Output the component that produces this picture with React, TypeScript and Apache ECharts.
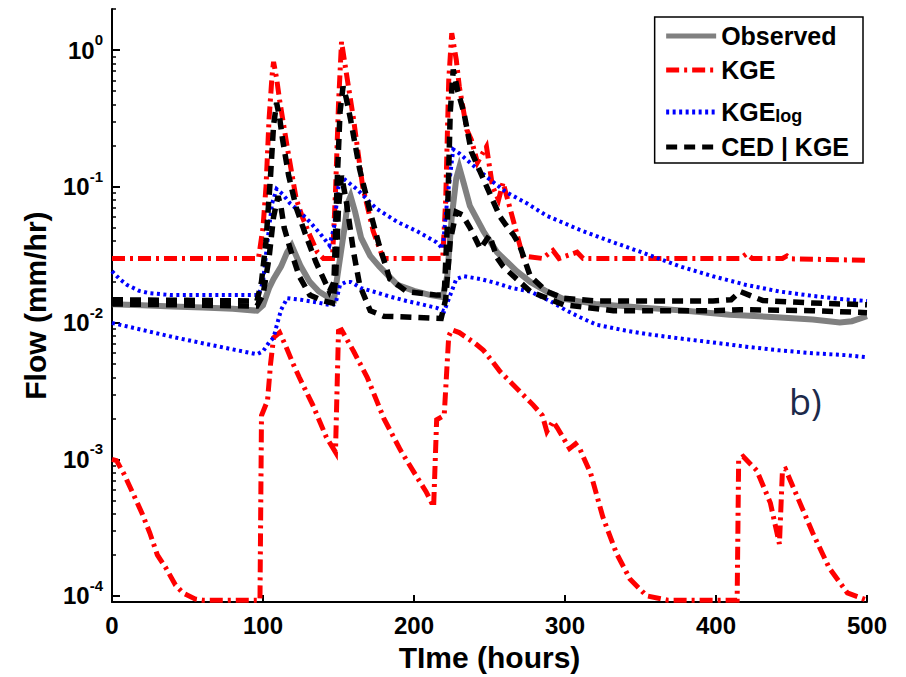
import React, { useEffect, useRef } from "react";
import * as echarts from "echarts";

// ---- data: [time (hours), flow (mm/hr)] ----
const observed: [number, number][] = [
  [0, 0.0137], [20, 0.0135], [40, 0.0132], [60, 0.013], [80, 0.0127], [96, 0.0123],
  [100, 0.0135], [104, 0.018], [107, 0.021], [112, 0.026], [116, 0.033], [119, 0.037],
  [122, 0.031], [125, 0.026], [131, 0.02], [137, 0.017], [144, 0.0152], [147, 0.0148],
  [150, 0.025], [154, 0.05], [156, 0.075], [158, 0.085], [161, 0.065], [165, 0.042],
  [171, 0.031], [177, 0.026], [189, 0.019], [200, 0.0172], [211, 0.016], [219, 0.0155],
  [222, 0.022], [225, 0.06], [228, 0.115], [230, 0.138], [233, 0.105], [237, 0.072],
  [246, 0.047], [255, 0.033], [268, 0.024], [277, 0.02], [288, 0.017], [299, 0.015],
  [320, 0.0138], [354, 0.0129], [380, 0.0123], [409, 0.0115], [440, 0.011], [464, 0.0106],
  [482, 0.0101], [490, 0.0103], [500, 0.0112]
];

const kgeUpper: [number, number][] = [
  [0, 0.0297], [97, 0.0297], [100, 0.05], [102, 0.1], [104, 0.31], [106, 0.65], [107, 0.82],
  [109, 0.62], [111, 0.43], [116, 0.196], [122, 0.081], [126, 0.06], [131, 0.044], [136, 0.033],
  [140, 0.0297], [146, 0.0297], [148, 0.09], [150, 0.4], [152, 1.15], [155, 0.7], [160, 0.31],
  [166, 0.1], [173, 0.047], [179, 0.031], [180, 0.0297], [219, 0.0297], [221, 0.08], [223, 0.6],
  [225, 1.33], [228, 0.85], [230, 0.54], [235, 0.26], [238, 0.22], [242, 0.15], [248, 0.196],
  [252, 0.1], [256, 0.08], [259, 0.107], [266, 0.055], [272, 0.031], [285, 0.0297], [292, 0.034],
  [296, 0.0297], [308, 0.033], [312, 0.0297], [416, 0.0297], [420, 0.032], [424, 0.0297],
  [444, 0.0297], [447, 0.031], [450, 0.0295], [500, 0.0288]
];

const kgeLower: [number, number][] = [
  [0, 0.001], [3, 0.00098], [8, 0.00078], [14, 0.00056], [20, 0.0004], [25, 0.00029], [30, 0.0002],
  [36, 0.000158], [42, 0.00012], [47, 0.000105], [55, 0.000095], [60, 0.000093], [98, 0.000093],
  [99, 0.0021], [103, 0.0027], [105, 0.005], [107, 0.0078], [111, 0.0085], [115, 0.0068],
  [120, 0.005], [124, 0.004], [133, 0.0025], [142, 0.00145], [148, 0.00113], [150, 0.0087],
  [152, 0.0089], [160, 0.0062], [169, 0.004], [180, 0.002], [191, 0.00117], [202, 0.00074],
  [208, 0.00058], [213, 0.00045], [215, 0.00195], [220, 0.0021], [223, 0.008], [225, 0.0089],
  [230, 0.0085], [235, 0.0078], [241, 0.007], [246, 0.0063], [252, 0.0052], [257, 0.0044],
  [266, 0.0035], [279, 0.0025], [285, 0.0021], [288, 0.0016], [292, 0.0019], [295, 0.0017],
  [303, 0.0012], [307, 0.0013], [310, 0.00118], [317, 0.00079], [325, 0.00038], [334, 0.000206],
  [343, 0.000133], [354, 0.0001], [368, 0.000093], [414, 0.000093], [415, 0.001], [418, 0.00105],
  [427, 0.00083], [436, 0.00048], [442, 0.00024], [444, 0.00083], [446, 0.00085], [453, 0.00056],
  [464, 0.00029], [475, 0.00016], [487, 0.000105], [500, 0.000093]
];

const kgeLogUpper: [number, number][] = [
  [0, 0.024], [5, 0.021], [10, 0.019], [18, 0.0172], [25, 0.0165], [40, 0.016], [97, 0.016],
  [100, 0.02], [103, 0.04], [106, 0.075], [109, 0.096], [113, 0.088], [118, 0.075], [124, 0.066],
  [131, 0.055], [138, 0.045], [144, 0.037], [147, 0.05], [150, 0.1], [153, 0.115], [158, 0.104],
  [162, 0.096], [175, 0.069], [189, 0.055], [202, 0.047], [215, 0.039], [219, 0.035], [222, 0.08],
  [226, 0.187], [230, 0.175], [237, 0.15], [250, 0.113], [261, 0.091], [275, 0.075], [288, 0.061],
  [310, 0.048], [332, 0.039], [354, 0.032], [376, 0.026], [398, 0.022], [420, 0.019], [442, 0.017],
  [464, 0.0158], [482, 0.015], [500, 0.0145]
];

const kgeLogLower: [number, number][] = [
  [0, 0.01], [20, 0.0089], [40, 0.0079], [60, 0.0071], [80, 0.0064], [96, 0.0059], [100, 0.0062],
  [104, 0.0072], [107, 0.0078], [109, 0.0095], [112, 0.0125], [116, 0.0152], [125, 0.0148],
  [135, 0.0142], [145, 0.0135], [148, 0.0138], [151, 0.019], [155, 0.02], [158, 0.02], [165, 0.018],
  [173, 0.017], [185, 0.0155], [195, 0.0145], [205, 0.0137], [215, 0.0129], [220, 0.0122],
  [224, 0.016], [228, 0.021], [233, 0.022], [244, 0.021], [255, 0.0195], [265, 0.018], [277, 0.017],
  [290, 0.0145], [300, 0.0125], [310, 0.011], [321, 0.0097], [340, 0.0088], [354, 0.0083],
  [376, 0.0077], [398, 0.0072], [420, 0.0067], [442, 0.0063], [464, 0.006], [487, 0.0058],
  [500, 0.0056]
];

const cedUpper: [number, number][] = [
  [0, 0.0148], [96, 0.0145], [99, 0.02], [102, 0.04], [105, 0.12], [107, 0.28], [109, 0.41],
  [111, 0.32], [113, 0.22], [117, 0.12], [122, 0.07], [128, 0.045], [135, 0.028], [144, 0.017],
  [147, 0.02], [149, 0.1], [151, 0.35], [153, 0.54], [155, 0.45], [158, 0.31], [164, 0.134],
  [171, 0.065], [177, 0.037], [184, 0.021], [195, 0.017], [215, 0.016], [220, 0.016], [222, 0.05],
  [224, 0.35], [226, 0.72], [229, 0.5], [233, 0.35], [238, 0.18], [246, 0.113], [252, 0.08],
  [257, 0.06], [261, 0.052], [266, 0.044], [270, 0.037], [277, 0.022], [288, 0.017], [299, 0.0152],
  [321, 0.0145], [398, 0.0145], [410, 0.0148], [416, 0.017], [422, 0.016], [431, 0.0146],
  [464, 0.014], [500, 0.0136]
];

const cedLower: [number, number][] = [
  [0, 0.0138], [96, 0.0133], [100, 0.016], [104, 0.03], [107, 0.06], [110, 0.085], [112, 0.07],
  [114, 0.05], [118, 0.035], [124, 0.022], [131, 0.016], [140, 0.0145], [146, 0.014], [148, 0.02],
  [150, 0.07], [152, 0.12], [155, 0.08], [160, 0.033], [164, 0.019], [171, 0.0123], [180, 0.0112],
  [200, 0.011], [218, 0.0108], [221, 0.015], [224, 0.04], [228, 0.065], [232, 0.062], [237, 0.05],
  [244, 0.035], [250, 0.044], [255, 0.03], [259, 0.026], [266, 0.022], [277, 0.017], [299, 0.0136],
  [332, 0.0123], [398, 0.0123], [416, 0.0125], [464, 0.0123], [500, 0.0119]
];

const xTicks = [0, 100, 200, 300, 400, 500];
const yDecades = [-4, -3, -2, -1, 0];
const legendNames = ["Observed", "KGE", "KGElog", "CED | KGE"];

const FONT = "'Liberation Sans', Arial, Helvetica, sans-serif";

export default function App() {
  const ref = useRef<HTMLDivElement>(null);

  useEffect(() => {
    if (!ref.current) return;
    const chart = echarts.init(ref.current, undefined, { renderer: "svg" });

    const yMin = Math.log10(9e-5);
    const yMax = Math.log10(2);
    const minor: number[] = [];
    for (let n = -5; n <= 0; n++) {
      for (let k = 2; k <= 9; k++) {
        const v = Math.log10(k * Math.pow(10, n));
        if (v > -4 && v <= yMax + 1e-9) minor.push(v);
      }
    }
    const toLog = (arr: [number, number][]) => arr.map(([t, v]) => [t, Math.log10(v)]);

    const red = { color: "#ff0000", width: 5, type: [13, 5, 3, 5] as any };
    const blue = { color: "#0000ff", width: 4, type: [3, 3.5] as any };
    const black = { color: "#000000", width: 5.5, type: [11, 7] as any };
    const grey = { color: "#808080", width: 6, type: "solid" as any };

    const mk = (name: string, data: [number, number][], ls: any, z: number) => ({
      name,
      type: "line",
      data: toLog(data),
      showSymbol: false,
      symbol: "none",
      lineStyle: { ...ls, cap: "butt", join: "miter" },
      itemStyle: { color: ls.color },
      z,
      silent: true,
    });

    chart.setOption({
      animation: false,
      grid: { left: 112, right: 39, top: 9, bottom: 71, containLabel: false },
      legend: {
        data: legendNames,
        orient: "vertical",
        right: 43,
        top: 17,
        selectedMode: false,
        itemWidth: 50,
        itemHeight: 24,
        itemGap: 9,
        padding: [6, 14, 4, 9],
        borderColor: "#000",
        borderWidth: 1.5,
        backgroundColor: "#fff",
        itemStyle: { opacity: 0, borderWidth: 0 },
        lineStyle: { width: 5 },
        formatter: (name: string) =>
          name === "KGElog" ? "{m|KGE}{sub|log}" : `{m|${name}}`,
        textStyle: {
          fontFamily: FONT,
          fontWeight: "bold",
          fontSize: 25,
          color: "#000",
          rich: {
            m: { fontFamily: FONT, fontWeight: "bold", fontSize: 25, lineHeight: 26, verticalAlign: "top", color: "#000" },
            sub: { fontFamily: FONT, fontWeight: "bold", fontSize: 18, lineHeight: 18, verticalAlign: "bottom", padding: [16, 0, 0, 0], color: "#000" },
          },
        },
      },
      xAxis: {
        type: "value",
        min: 0,
        max: 500,
        interval: 100,
        name: "TIme (hours)",
        nameLocation: "middle",
        nameGap: 37,
        nameTextStyle: { fontFamily: FONT, fontWeight: "bold", fontSize: 30, color: "#000" },
        axisLine: { show: true, onZero: false, lineStyle: { color: "#000", width: 2 } },
        axisTick: { show: true, inside: true, length: 7, lineStyle: { color: "#000", width: 2 } },
        axisLabel: {
          show: true,
          margin: 11,
          fontFamily: FONT,
          fontWeight: "bold",
          fontSize: 24,
          color: "#000",
          customValues: xTicks,
        },
        splitLine: { show: false },
      },
      yAxis: [
        {
          type: "value",
          min: yMin,
          max: yMax,
          name: "Flow (mm/hr)",
          nameLocation: "middle",
          nameGap: 62,
          nameRotate: 90,
          nameTextStyle: { fontFamily: FONT, fontWeight: "bold", fontSize: 30, color: "#000" },
          axisLine: { show: true, onZero: false, lineStyle: { color: "#000", width: 2 } },
          axisTick: { show: true, inside: true, length: 8, lineStyle: { color: "#000", width: 2 }, customValues: yDecades },
          axisLabel: {
            show: true,
            margin: 9,
            customValues: yDecades,
            formatter: (v: number) => `{b|10}{s|${Math.round(v)}}`,
            rich: {
              b: { fontFamily: FONT, fontWeight: "bold", fontSize: 24, lineHeight: 36, verticalAlign: "middle", color: "#000" },
              s: { fontFamily: FONT, fontWeight: "bold", fontSize: 15, lineHeight: 15, verticalAlign: "top", color: "#000" },
            },
          },
          splitLine: { show: false },
        },
        {
          type: "value",
          min: yMin,
          max: yMax,
          position: "left",
          axisLine: { show: false },
          axisTick: { show: true, inside: true, length: 4, lineStyle: { color: "#000", width: 1.5 }, customValues: minor },
          axisLabel: { show: false },
          splitLine: { show: false },
        },
      ],
      series: [
        mk("Observed", observed, grey, 2),
        mk("KGE", kgeUpper, red, 3),
        mk("KGE", kgeLower, red, 3),
        mk("KGElog", kgeLogUpper, blue, 4),
        mk("KGElog", kgeLogLower, blue, 4),
        mk("CED | KGE", cedUpper, black, 5),
        mk("CED | KGE", cedLower, black, 5),
      ],
      graphic: [
        {
          type: "text",
          x: 789,
          y: 401,
          style: {
            text: "b)",
            fontFamily: "'Open Sans', 'Noto Sans', sans-serif",
            fontSize: 36,
            fill: "#1c2a4a",
            align: "left",
            verticalAlign: "middle",
          },
        },
      ],
    });

    return () => chart.dispose();
  }, []);

  return (
    <div
      ref={ref}
      style={{ position: "absolute", left: 0, top: 0, width: 906, height: 677, background: "#fff" }}
    />
  );
}
